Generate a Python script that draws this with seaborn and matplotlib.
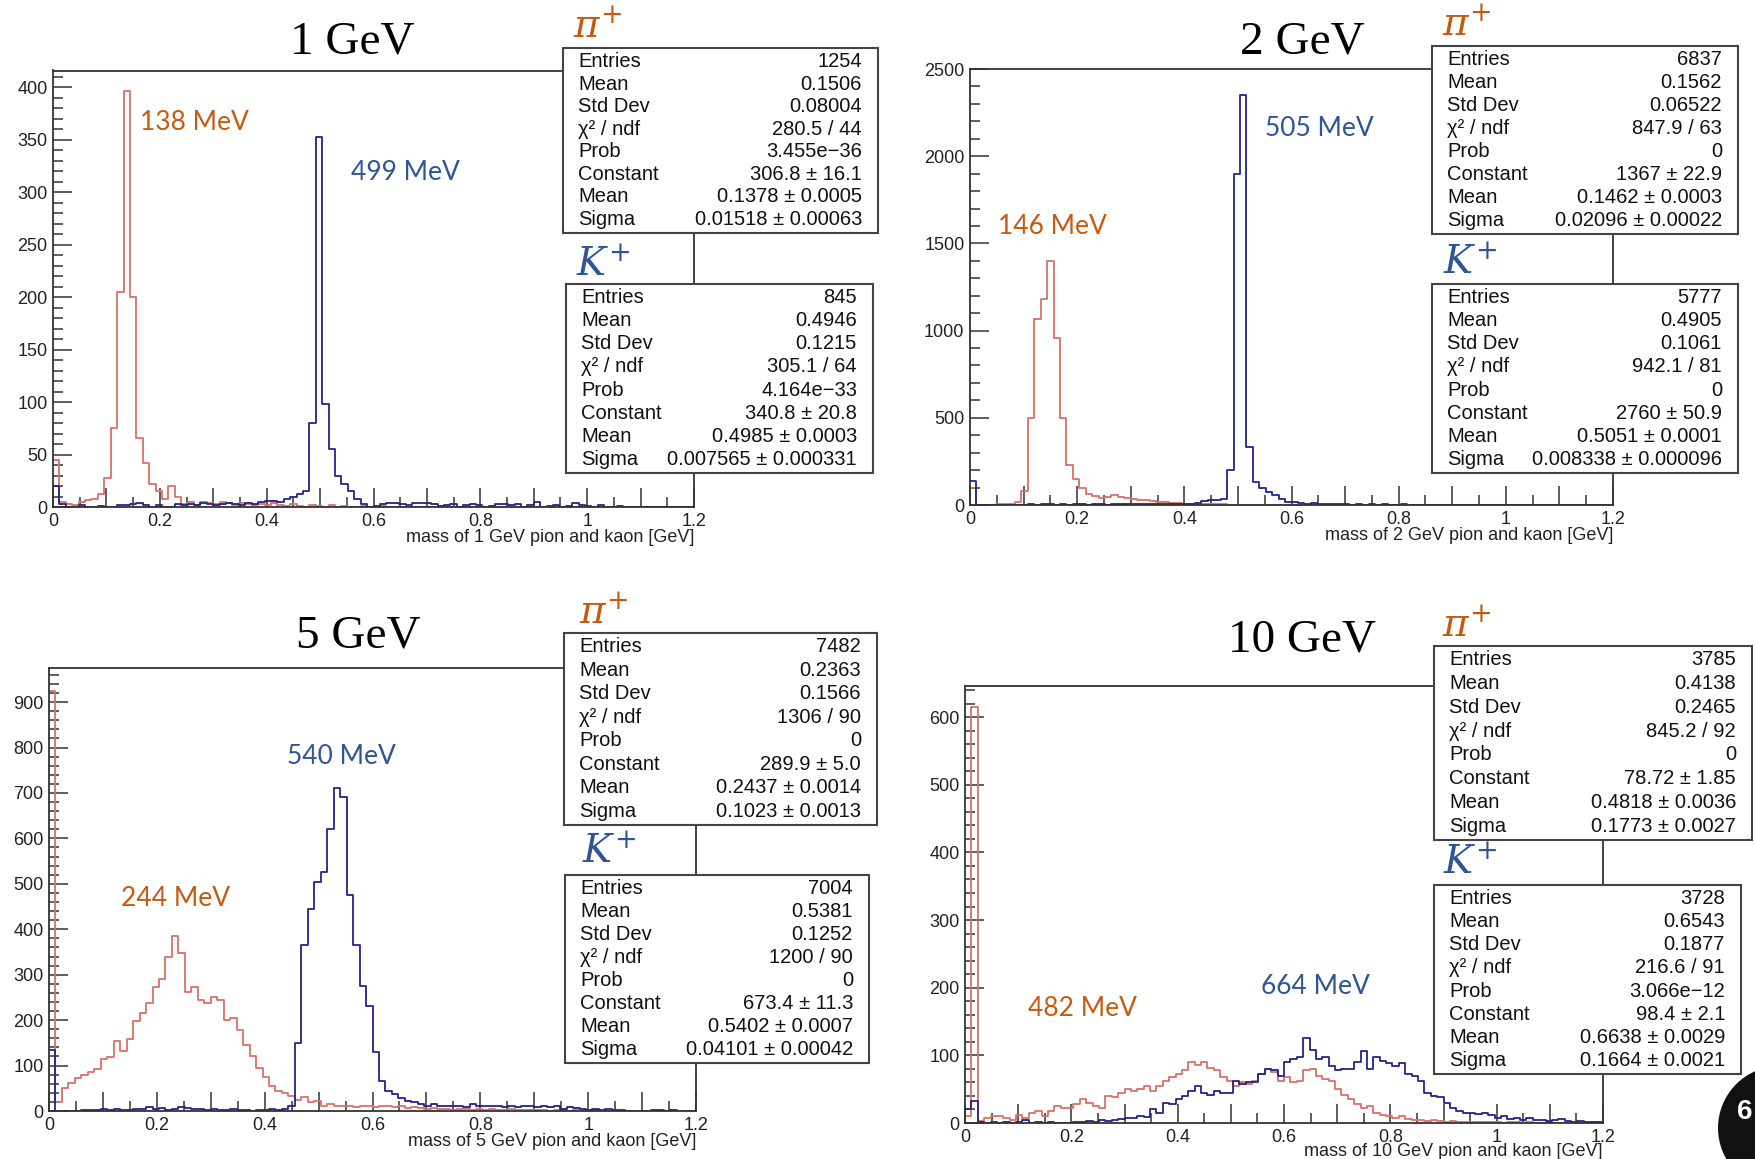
import numpy as np
import pandas as pd
import seaborn as sns
import matplotlib.pyplot as plt
from matplotlib.patches import Rectangle, Circle
from matplotlib.transforms import IdentityTransform
from matplotlib.ticker import MultipleLocator, FuncFormatter

sns.set_style("white")
plt.rcParams['font.family'] = ['Liberation Sans', 'DejaVu Sans']
plt.rcParams['mathtext.fontset'] = 'dejavuserif'

# 100 bins of 12 MeV from 0 to 1.2 GeV
edges = np.linspace(0, 1.2, 101)
centers = (edges[:-1] + edges[1:]) / 2


def pad(v):
    return v + [0] * (100 - len(v))


# counts per bin (pion = red, kaon = blue)
pion_1gev = pad([45, 5, 3, 2, 5, 7, 8, 12, 28, 75,
                 205, 396, 200, 66, 42, 22, 15, 8, 20, 10,
                 3, 5, 2, 5, 4, 3, 5, 4, 2, 4,
                 3, 2, 3, 2, 4, 2, 1, 3, 1, 0,
                 2, 1, 0, 2, 0, 1, 0, 0, 1, 0,
                 0, 1])
kaon_1gev = pad([20, 3, 0, 0, 2, 0, 0, 1, 0, 0,
                 2, 2, 3, 4, 2, 0, 2, 0, 0, 3,
                 2, 3, 2, 4, 3, 2, 3, 4, 3, 2,
                 4, 3, 5, 6, 6, 5, 8, 10, 12, 15,
                 80, 353, 98, 55, 30, 22, 15, 8, 3, 0,
                 1, 3, 4, 4, 3, 2, 4, 4, 4, 3,
                 1, 2, 3, 0, 2, 3, 2, 0, 1, 3,
                 3, 2, 3, 0, 2, 5, 0, 1, 2, 0,
                 1, 4, 2, 1, 0, 2, 0, 0, 1, 0])
pion_2gev = pad([100, 0, 0, 0, 5, 5, 8, 20, 80, 500,
                 1065, 1180, 1400, 960, 500, 230, 150, 95, 65, 50,
                 40, 45, 55, 45, 40, 35, 30, 28, 25, 20,
                 18, 12, 10, 8, 8, 5, 6, 4, 3, 3,
                 2, 0, 2, 0, 0, 1])
kaon_2gev = pad([140, 0, 0, 0, 0, 0, 0, 0, 0, 3,
                 0, 5, 3, 0, 3, 2, 5, 3, 0, 5,
                 3, 2, 5, 3, 4, 3, 5, 3, 8, 5,
                 3, 5, 4, 8, 5, 10, 25, 30, 30, 35,
                 200, 1900, 2350, 330, 130, 100, 75, 55, 35, 20,
                 15, 10, 8, 12, 5, 8, 3, 5, 3, 2,
                 5, 2, 3, 1, 3, 2, 0, 3, 1, 0,
                 0, 2, 0, 0, 1, 0, 0, 0, 2])
pion_5gev = pad([925, 20, 50, 62, 72, 80, 85, 92, 115, 118,
                 155, 132, 158, 198, 215, 238, 272, 290, 340, 385,
                 348, 262, 272, 245, 238, 252, 245, 200, 205, 178,
                 145, 120, 95, 75, 55, 45, 40, 32, 25, 30,
                 20, 22, 12, 15, 10, 12, 10, 8, 12, 10,
                 8, 10, 12, 8, 10, 7, 8, 6, 5, 6,
                 4, 5, 3, 4, 5, 3, 4, 2, 5, 3,
                 2, 4, 3, 2, 3, 2, 3, 1, 2, 3,
                 1, 2, 1, 0, 2, 1])
kaon_5gev = pad([135, 0, 0, 0, 0, 2, 3, 2, 5, 3,
                 5, 3, 2, 5, 4, 8, 5, 6, 3, 5,
                 8, 6, 5, 5, 3, 4, 2, 3, 5, 3,
                 2, 0, 2, 3, 5, 3, 5, 10, 150, 365,
                 445, 505, 525, 620, 710, 690, 475, 365, 275, 230,
                 130, 65, 45, 38, 28, 22, 20, 15, 12, 15,
                 12, 10, 10, 12, 8, 15, 10, 12, 10, 10,
                 8, 10, 8, 10, 12, 8, 10, 8, 10, 5,
                 8, 6, 5, 3, 5, 2, 4, 3, 2, 0,
                 0, 0, 0, 3, 2, 0, 2, 1, 0, 0])
pion_10gev = pad([10, 615, 3, 8, 10, 10, 8, 5, 12, 8,
                  15, 18, 10, 18, 25, 22, 22, 28, 35, 30,
                  25, 22, 40, 38, 45, 50, 48, 50, 55, 48,
                  55, 62, 68, 72, 78, 90, 86, 90, 82, 78,
                  68, 62, 55, 60, 58, 62, 72, 80, 75, 62,
                  68, 60, 62, 78, 80, 70, 65, 62, 50, 42,
                  35, 28, 22, 25, 15, 12, 10, 8, 10, 6,
                  5, 5, 3, 4, 3, 2, 3, 2, 1, 2,
                  1, 1, 2, 1, 0, 1, 1, 0, 1, 0,
                  0, 1])
kaon_10gev = pad([20, 32, 2, 0, 1, 0, 2, 0, 1, 4,
                  0, 2, 0, 1, 0, 0, 0, 2, 1, 3,
                  2, 4, 3, 5, 6, 8, 8, 10, 9, 20,
                  15, 30, 28, 35, 40, 48, 55, 45, 42, 48,
                  45, 45, 62, 58, 60, 60, 72, 80, 78, 70,
                  90, 95, 98, 125, 108, 95, 98, 85, 78, 80,
                  80, 90, 107, 80, 98, 92, 88, 85, 88, 72,
                  70, 62, 45, 40, 38, 30, 22, 18, 15, 15,
                  13, 15, 12, 8, 10, 6, 8, 5, 7, 4,
                  5, 3, 4, 6, 3, 2, 3, 2, 2, 1])

stat_names = ["Entries", "Mean", "Std Dev", "χ² / ndf", "Prob", "Constant", "Mean", "Sigma"]
pion_stats_1 = ["1254", "0.1506", "0.08004", "280.5 / 44", "3.455e−36", "306.8 ± 16.1", "0.1378 ± 0.0005", "0.01518 ± 0.00063"]
kaon_stats_1 = ["845", "0.4946", "0.1215", "305.1 / 64", "4.164e−33", "340.8 ± 20.8", "0.4985 ± 0.0003", "0.007565 ± 0.000331"]
pion_stats_2 = ["6837", "0.1562", "0.06522", "847.9 / 63", "0", "1367 ± 22.9", "0.1462 ± 0.0003", "0.02096 ± 0.00022"]
kaon_stats_2 = ["5777", "0.4905", "0.1061", "942.1 / 81", "0", "2760 ± 50.9", "0.5051 ± 0.0001", "0.008338 ± 0.000096"]
pion_stats_5 = ["7482", "0.2363", "0.1566", "1306 / 90", "0", "289.9 ± 5.0", "0.2437 ± 0.0014", "0.1023 ± 0.0013"]
kaon_stats_5 = ["7004", "0.5381", "0.1252", "1200 / 90", "0", "673.4 ± 11.3", "0.5402 ± 0.0007", "0.04101 ± 0.00042"]
pion_stats_10 = ["3785", "0.4138", "0.2465", "845.2 / 92", "0", "78.72 ± 1.85", "0.4818 ± 0.0036", "0.1773 ± 0.0027"]
kaon_stats_10 = ["3728", "0.6543", "0.1877", "216.6 / 91", "3.066e−12", "98.4 ± 2.1", "0.6638 ± 0.0029", "0.1664 ± 0.0021"]

titles = ["1 GeV", "2 GeV", "5 GeV", "10 GeV"]
pion_peaks = ["138 MeV", "146 MeV", "244 MeV", "482 MeV"]
kaon_peaks = ["499 MeV", "505 MeV", "540 MeV", "664 MeV"]

RED = "#da7168"
BLUE = "#24248a"
ORANGE = "#c55a11"
TBLUE = "#2f5597"
W, H = 1755, 1159


def fx(x):
    return x / W


def fy(y):
    return 1 - y / H


panels = [
    dict(frame=(53, 70.5, 694, 507), ymax=416, ymaj=50, ymin=10,
         pion=pion_1gev, kaon=kaon_1gev, ps=pion_stats_1, ks=kaon_stats_1,
         pbox=(563, 48, 878, 233), kbox=(566, 284, 873, 473),
         plab=(573, 28), klab=(576, 266), title=(352, 42), xlab_y=537,
         ptxt=(194, 123), ktxt=(405, 173)),
    dict(frame=(970, 69, 1613, 505), ymax=2500, ymaj=500, ymin=100,
         pion=pion_2gev, kaon=kaon_2gev, ps=pion_stats_2, ks=kaon_stats_2,
         pbox=(1432, 46, 1738, 234), kbox=(1432, 284, 1738, 473),
         plab=(1442, 26), klab=(1443, 264), title=(1302, 42), xlab_y=535,
         ptxt=(1052, 227), ktxt=(1319, 128)),
    dict(frame=(49, 668, 696, 1111), ymax=975, ymaj=100, ymin=20,
         pion=pion_5gev, kaon=kaon_5gev, ps=pion_stats_5, ks=kaon_stats_5,
         pbox=(564, 633, 877, 825), kbox=(565, 875, 869, 1063),
         plab=(579, 614), klab=(582, 853), title=(358, 636), xlab_y=1142,
         ptxt=(176, 899), ktxt=(341, 757)),
    dict(frame=(965, 686, 1603, 1123), ymax=646, ymaj=100, ymin=20,
         pion=pion_10gev, kaon=kaon_10gev, ps=pion_stats_10, ks=kaon_stats_10,
         pbox=(1434, 646, 1752, 840), kbox=(1434, 885, 1741, 1074),
         plab=(1442, 627), klab=(1443, 864), title=(1302, 640), xlab_y=1151,
         ptxt=(1083, 1008), ktxt=(1315, 987)),
]

fig = plt.figure(figsize=(W / 100, H / 100), dpi=100)


def xfmt(v, pos):
    k = round(v / 0.1)
    if k % 2:
        return ""
    return f"{round(v, 3):g}"


def stat_box(box, values):
    l, t, r, b = box
    fig.add_artist(Rectangle((fx(l), fy(b)), (r - l) / W, (b - t) / H,
                             transform=fig.transFigure, facecolor="white",
                             edgecolor="#444444", lw=1.5, zorder=5))
    y0, y1 = t + 13.5, b - 13.5
    step = (y1 - y0) / 7
    for i, (name, val) in enumerate(zip(stat_names, values)):
        y = y0 + i * step
        fig.text(fx(l + 15), fy(y), name, ha="left", va="center", fontsize=14.5, color="#111", zorder=6)
        fig.text(fx(r - 16), fy(y), val, ha="right", va="center", fontsize=14.5, color="#111", zorder=6)


for i, p in enumerate(panels):
    l, t, r, b = p["frame"]
    ax = fig.add_axes([fx(l), fy(b), (r - l) / W, (b - t) / H])
    df = pd.DataFrame({"mass": centers, "pion": p["pion"], "kaon": p["kaon"]})
    sns.histplot(data=df, x="mass", weights="pion", bins=100, binrange=(0, 1.2),
                 element="step", fill=False, color=RED, linewidth=1.3, ax=ax)
    sns.histplot(data=df, x="mass", weights="kaon", bins=100, binrange=(0, 1.2),
                 element="step", fill=False, color=BLUE, linewidth=1.3, ax=ax)
    ax.set_xlim(0, 1.2)
    ax.set_ylim(0, p["ymax"])
    ax.set_xlabel("")
    ax.set_ylabel("")
    ax.xaxis.set_major_locator(MultipleLocator(0.1))
    ax.xaxis.set_minor_locator(MultipleLocator(0.05))
    ax.xaxis.set_major_formatter(FuncFormatter(xfmt))
    ax.yaxis.set_major_locator(MultipleLocator(p["ymaj"]))
    ax.yaxis.set_minor_locator(MultipleLocator(p["ymin"]))
    ax.yaxis.set_major_formatter(FuncFormatter(lambda v, pos: f"{int(round(v))}"))
    ax.tick_params(which="both", direction="in", bottom=True, left=True, top=False, right=False,
                   color="#333333", width=1.1, labelsize=13, labelcolor="#222222")
    ax.tick_params(which="major", length=14, pad=4)
    ax.tick_params(which="minor", length=7)
    for s in ax.spines.values():
        s.set_color("#333333")
        s.set_linewidth(1.3)

    fig.text(fx(r), fy(p["xlab_y"]), f"mass of {titles[i]} pion and kaon [GeV]",
             ha="right", va="center", fontsize=13, color="#222222")
    fig.text(fx(p["title"][0]), fy(p["title"][1]), titles[i], ha="center", va="center",
             fontsize=34, family="Liberation Serif", color="black")
    fig.text(fx(p["ptxt"][0]), fy(p["ptxt"][1]), pion_peaks[i], ha="center", va="center",
             fontsize=19, family="Lato", color=ORANGE)
    fig.text(fx(p["ktxt"][0]), fy(p["ktxt"][1]), kaon_peaks[i], ha="center", va="center",
             fontsize=19, family="Lato", color=TBLUE)

    stat_box(p["pbox"], p["ps"])
    stat_box(p["kbox"], p["ks"])
    fig.text(fx(p["plab"][0]), fy(p["plab"][1]), r"$\pi^{+}$", ha="left", va="center",
             fontsize=28, color=ORANGE)
    fig.text(fx(p["klab"][0]), fy(p["klab"][1]), r"$K^{+}$", ha="left", va="center",
             fontsize=28, color=TBLUE)

# slide-number badge cut by the corner
fig.add_artist(Circle((1780, H - 1128), 62, transform=IdentityTransform(),
                      facecolor="#111111", edgecolor="none", zorder=7))
fig.text(fx(1753), fy(1112), "6", ha="right", va="center", fontsize=20,
         color="white", fontweight="bold", zorder=8)

fig.savefig("out.png", dpi=100)
